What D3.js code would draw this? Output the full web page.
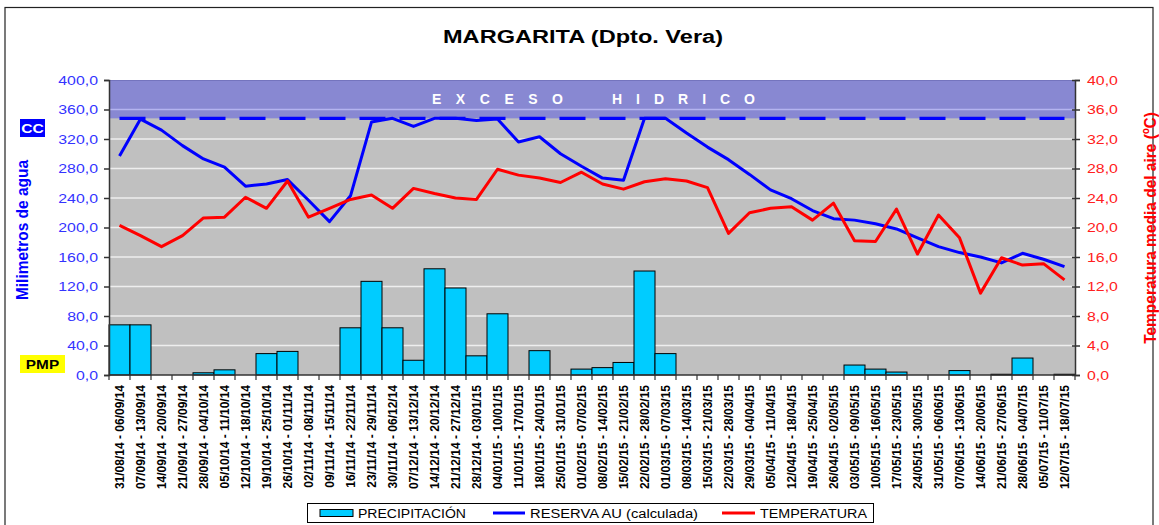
<!DOCTYPE html>
<html><head><meta charset="utf-8">
<script src="https://cdn.jsdelivr.net/npm/d3@7"></script>
<style>body{margin:0;background:#fff}svg{display:block;font-family:"Liberation Sans",Arial,sans-serif}</style>
</head><body><svg id="c" width="1159" height="525"></svg>
<script>
const labels = [
"31/08/14 - 06/09/14","07/09/14 - 13/09/14","14/09/14 - 20/09/14","21/09/14 - 27/09/14","28/09/14 - 04/10/14",
"05/10/14 - 11/10/14","12/10/14 - 18/10/14","19/10/14 - 25/10/14","26/10/14 - 01/11/14","02/11/14 - 08/11/14",
"09/11/14 - 15/11/14","16/11/14 - 22/11/14","23/11/14 - 29/11/14","30/11/14 - 06/12/14","07/12/14 - 13/12/14",
"14/12/14 - 20/12/14","21/12/14 - 27/12/14","28/12/14 - 03/01/15","04/01/15 - 10/01/15","11/01/15 - 17/01/15",
"18/01/15 - 24/01/15","25/01/15 - 31/01/15","01/02/15 - 07/02/15","08/02/15 - 14/02/15","15/02/15 - 21/02/15",
"22/02/15 - 28/02/15","01/03/15 - 07/03/15","08/03/15 - 14/03/15","15/03/15 - 21/03/15","22/03/15 - 28/03/15",
"29/03/15 - 04/04/15","05/04/15 - 11/04/15","12/04/15 - 18/04/15","19/04/15 - 25/04/15","26/04/15 - 02/05/15",
"03/05/15 - 09/05/15","10/05/15 - 16/05/15","17/05/15 - 23/05/15","24/05/15 - 30/05/15","31/05/15 - 06/06/15",
"07/06/15 - 13/06/15","14/06/15 - 20/06/15","21/06/15 - 27/06/15","28/06/15 - 04/07/15","05/07/15 - 11/07/15",
"12/07/15 - 18/07/15"];
const precipitacion = [68,68,0,0,3,7,0,29,32,0, 0,64,127,64,20,144,118,26,83,0, 33,0,8,10,17,141,29,0,0,0, 0,0,0,0,0,13.5,8,4,0,0, 6,0,1,23,0,1];
const reserva = [297,347,332,311,293,282,256,259,265,237, 208,243,343,348,337,348,348,345,347,316, 323,300,283,267,264,348,348,328,309,292, 272,251,239,223,212,210,205,198,186,174, 166,160,152,165,157,147];
const temperatura = [20.3,18.9,17.4,18.9,21.3,21.4,24.1,22.6,26.3,21.4, 22.6,23.8,24.4,22.6,25.3,24.6,24.0,23.8,27.9,27.1, 26.7,26.1,27.5,25.9,25.2,26.2,26.6,26.3,25.4,19.2, 22.0,22.6,22.8,21.0,23.3,18.2,18.1,22.5,16.4,21.7, 18.6,11.1,15.9,14.9,15.1,12.9];
const leftTicks = [0,40,80,120,160,200,240,280,320,360,400];
const rightTicks = [0,4,8,12,16,20,24,28,32,36,40];
const CC = 348;
const seriesNames = ["PRECIPITACIÓN","RESERVA AU (calculada)","TEMPERATURA"];

const L = 109, R = 1075, T = 80, B = 375;
const svg = d3.select("#c");
const x = d3.scaleBand().domain(labels).range([L, R]).padding(0);
const yL = d3.scaleLinear().domain([0, 400]).range([B, T]);
const yR = d3.scaleLinear().domain([0, 40]).range([B, T]);
const fmt = d => d.toFixed(1).replace(".", ",");
const cx = (d) => x(d) + x.bandwidth() / 2;

function stretch(sel, k) {
  sel.each(function () {
    const len = this.getComputedTextLength();
    this.setAttribute("textLength", len * k);
    this.setAttribute("lengthAdjust", "spacingAndGlyphs");
  });
}

// outer frame
svg.append("rect").attr("x", 5).attr("y", 7.5).attr("width", 1148).attr("height", 540)
  .attr("fill", "none").attr("stroke", "#222").attr("stroke-width", 1.2);

// plot background
svg.append("rect").attr("x", L).attr("y", T).attr("width", R - L).attr("height", B - T).attr("fill", "#C0C0C0");
svg.append("rect").attr("x", L).attr("y", yL(400)).attr("width", R - L).attr("height", yL(CC) - yL(400))
  .attr("fill", "#8888D2");
svg.append("line").attr("x1", L).attr("x2", R).attr("y1", T + 0.5).attr("y2", T + 0.5).attr("stroke", "#7474BE");

// gridlines
svg.append("g").selectAll("line").data(leftTicks.filter(d => d > 0 && d < 400)).join("line")
  .attr("x1", L).attr("x2", R).attr("y1", d => yL(d)).attr("y2", d => yL(d))
  .attr("stroke", d => d > CC ? "#B4B4F0" : "#EEEEEE").attr("stroke-width", 1.5);

// exceso hidrico text
const ex = svg.append("g").attr("fill", "#fff").attr("font-weight", "bold").attr("font-size", 14);
ex.append("text").attr("x", 432).attr("y", yL((400 + CC) / 2) + 5).attr("textLength", 131)
  .attr("lengthAdjust", "spacing").text("EXCESO");
ex.append("text").attr("x", 612).attr("y", yL((400 + CC) / 2) + 5).attr("textLength", 143)
  .attr("lengthAdjust", "spacing").text("HIDRICO");

// bars
svg.append("g").selectAll("rect").data(precipitacion.map((v, i) => ({ v, k: labels[i] }))).join("rect")
  .filter(d => d.v > 0)
  .attr("x", d => x(d.k)).attr("width", x.bandwidth())
  .attr("y", d => yL(d.v)).attr("height", d => yL(0) - yL(d.v))
  .attr("fill", "#00CCFF").attr("stroke", "#000").attr("stroke-width", 1);

// CC dashed line
svg.append("line").attr("x1", cx(labels[0])).attr("x2", cx(labels[labels.length - 1]))
  .attr("y1", yL(CC)).attr("y2", yL(CC))
  .attr("stroke", "#0000FF").attr("stroke-width", 3.2).attr("stroke-dasharray", "26,14");

// lines
const lineL = d3.line().x((d, i) => cx(labels[i])).y(d => yL(d));
const lineR = d3.line().x((d, i) => cx(labels[i])).y(d => yR(d));
svg.append("path").datum(reserva).attr("d", lineL).attr("fill", "none")
  .attr("stroke", "#0000FF").attr("stroke-width", 3).attr("stroke-linejoin", "round");
svg.append("path").datum(temperatura).attr("d", lineR).attr("fill", "none")
  .attr("stroke", "#FF0000").attr("stroke-width", 3).attr("stroke-linejoin", "round");

// axes
const axL = svg.append("g").attr("transform", `translate(${L},0)`)
  .call(d3.axisLeft(yL).tickValues(leftTicks).tickFormat(fmt).tickSize(5).tickPadding(6));
axL.select(".domain").attr("stroke", "#333").attr("stroke-width", 1.5);
axL.selectAll(".tick line").attr("stroke", "#333").attr("stroke-width", 1.5);
axL.selectAll("text").attr("fill", "#3333FF").attr("font-size", 13).attr("font-family", null);
stretch(axL.selectAll("text"), 1.22);

const axR = svg.append("g").attr("transform", `translate(${R},0)`)
  .call(d3.axisRight(yR).tickValues(rightTicks).tickFormat(fmt).tickSize(5).tickPadding(7));
axR.select(".domain").attr("stroke", "#333").attr("stroke-width", 1.5);
axR.selectAll(".tick line").attr("stroke", "#333").attr("stroke-width", 1.5).attr("x1", -3);
axR.selectAll("text").attr("fill", "#FF2020").attr("font-size", 13).attr("font-family", null);
stretch(axR.selectAll("text"), 1.22);

// bottom axis
const gB = svg.append("g");
gB.append("line").attr("x1", L).attr("x2", R).attr("y1", B).attr("y2", B).attr("stroke", "#333").attr("stroke-width", 1.5);
gB.selectAll("line.t").data(labels.concat(["end"])).join("line").attr("class", "t")
  .attr("x1", d => d === "end" ? R : x(d)).attr("x2", d => d === "end" ? R : x(d))
  .attr("y1", B).attr("y2", B + 5).attr("stroke", "#333").attr("stroke-width", 1.2);
gB.selectAll("text").data(labels).join("text")
  .attr("transform", d => `translate(${cx(d) + 4.5},385) scale(1.12,1) rotate(-90)`)
  .attr("text-anchor", "end").attr("font-size", 12).attr("font-weight", "bold").attr("fill", "#000")
  .text(d => d);

// axis titles
svg.append("text").attr("transform", "translate(28,230) scale(1.12,1) rotate(-90)").attr("text-anchor", "middle")
  .attr("font-size", 15.5).attr("font-weight", "bold").attr("fill", "#0000FF").text("Milimetros de agua");
svg.append("text").attr("transform", "translate(1156,228) scale(1.1,1) rotate(-90)").attr("text-anchor", "middle")
  .attr("font-size", 15.5).attr("font-weight", "bold").attr("fill", "#FF0000").text("Temperatura media del aire (ºC)");

// title
svg.append("text").attr("x", 583).attr("y", 43).attr("text-anchor", "middle").attr("font-size", 17.5)
  .attr("font-weight", "bold").attr("fill", "#000").attr("textLength", 280).attr("lengthAdjust", "spacingAndGlyphs")
  .text("MARGARITA (Dpto. Vera)");

// CC and PMP boxes
svg.append("rect").attr("x", 20).attr("y", 119).attr("width", 25).attr("height", 18).attr("fill", "#0000FF");
const tCC = svg.append("text").attr("x", 32.5).attr("y", 133).attr("text-anchor", "middle").attr("font-size", 13)
  .attr("font-weight", "bold").attr("fill", "#fff").text("CC");
stretch(tCC, 1.2);
svg.append("rect").attr("x", 20).attr("y", 355).attr("width", 45).attr("height", 18).attr("fill", "#FFFF00");
const tP = svg.append("text").attr("x", 42.5).attr("y", 369).attr("text-anchor", "middle").attr("font-size", 13)
  .attr("font-weight", "bold").attr("fill", "#000").text("PMP");
stretch(tP, 1.18);

// legend
const lg = svg.append("g");
lg.append("rect").attr("x", 307.5).attr("y", 503.5).attr("width", 566).attr("height", 19)
  .attr("fill", "#fff").attr("stroke", "#000").attr("stroke-width", 1);
lg.append("rect").attr("x", 320).attr("y", 509.5).attr("width", 33).attr("height", 7)
  .attr("fill", "#00CCFF").attr("stroke", "#000").attr("stroke-width", 1);
lg.append("line").attr("x1", 493).attr("x2", 525).attr("y1", 513).attr("y2", 513).attr("stroke", "#0000FF").attr("stroke-width", 3);
lg.append("line").attr("x1", 722).attr("x2", 755).attr("y1", 513).attr("y2", 513).attr("stroke", "#FF0000").attr("stroke-width", 3);
const lx = [358, 530, 760], lw = [108, 168, 107];
lg.selectAll("text").data(seriesNames).join("text")
  .attr("x", (d, i) => lx[i]).attr("y", 517.5).attr("font-size", 12).attr("fill", "#000")
  .attr("textLength", (d, i) => lw[i]).attr("lengthAdjust", "spacingAndGlyphs").text(d => d);
</script></body></html>
